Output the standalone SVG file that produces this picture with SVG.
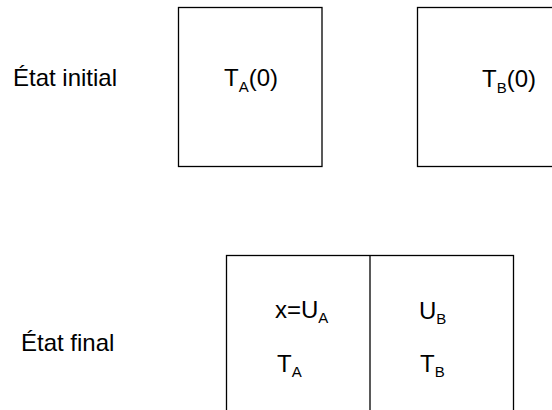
<svg xmlns="http://www.w3.org/2000/svg" width="552" height="410" viewBox="0 0 552 410">
<style>
.box{fill:#fff;stroke:#000;stroke-width:1.3}
.t{font-family:"Liberation Sans",Arial,sans-serif;font-size:24px;fill:#000}
.s{font-size:15px}
</style>
<rect width="552" height="410" fill="#fff"/>
<g id="label-initial"><text class="t" x="13" y="86">État initial</text></g>
<g id="label-final"><text class="t" x="21" y="351">État final</text></g>
<g id="box-A0">
<rect class="box" x="178.5" y="7.5" width="143.5" height="159"/>
<text class="t" x="224" y="86">T<tspan class="s" dy="6">A</tspan><tspan dy="-6">(0)</tspan></text>
</g>
<g id="box-B0">
<rect class="box" x="417.5" y="7.5" width="150" height="159"/>
<text class="t" x="482" y="87">T<tspan class="s" dy="6">B</tspan><tspan dy="-6">(0)</tspan></text>
</g>
<g id="box-final">
<rect class="box" x="226.5" y="255.5" width="287" height="170"/>
<line class="box" x1="370" y1="255.5" x2="370" y2="410"/>
<text class="t" x="275" y="318">x=U<tspan class="s" dy="5">A</tspan></text>
<text class="t" x="277" y="372">T<tspan class="s" dy="5">A</tspan></text>
<text class="t" x="419" y="319">U<tspan class="s" dy="5">B</tspan></text>
<text class="t" x="420" y="372">T<tspan class="s" dy="5">B</tspan></text>
</g>
<g id="connectors"></g>
</svg>
